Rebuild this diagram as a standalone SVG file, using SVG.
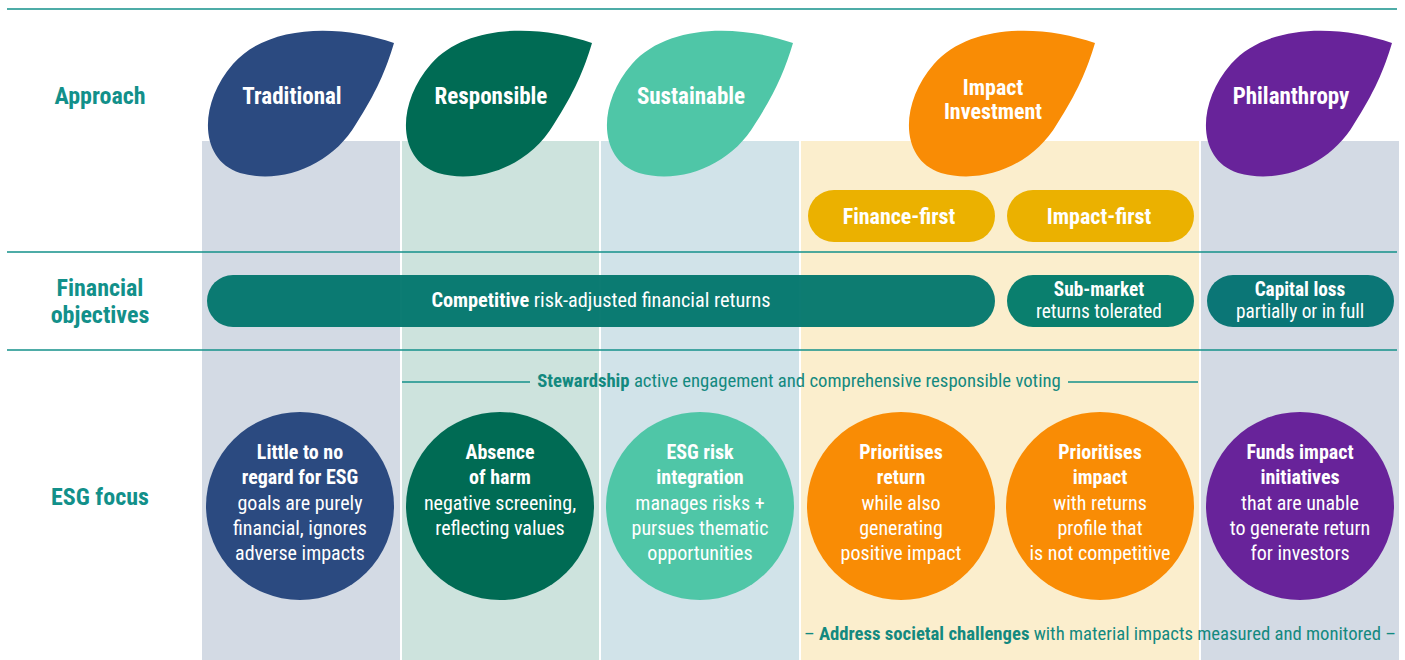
<svg xmlns="http://www.w3.org/2000/svg" xmlns:xlink="http://www.w3.org/1999/xlink" width="1405" height="660" viewBox="0 0 1405 660">
<style>
.f{font-family:"Liberation Sans Narrow","Roboto Condensed","Liberation Sans",Arial,sans-serif}
.lbl{font-weight:bold;font-size:24px;fill:#12908a;text-anchor:middle}
.lt{font-weight:bold;font-size:23px;fill:#fff;text-anchor:middle}
.lt2{font-weight:bold;font-size:22px;fill:#fff;text-anchor:middle}
.pt{font-weight:bold;font-size:22px;fill:#fff;text-anchor:middle}
.ft{font-size:20.3px;fill:#fff;text-anchor:middle}
.ft2{font-size:19.3px;fill:#fff;text-anchor:middle}
.ct{font-size:20px;fill:#fff;text-anchor:middle}
.b{font-weight:bold}
.rule{stroke:#13908a;stroke-width:1.5;fill:none}
.note{font-size:18.7px;fill:#13897f;text-anchor:middle}
</style>
<defs>
<path id="leaf" d="M394,43 C340,24 268,24 233,64 C198,104 199,160 240,173 C282,185 332,165 356,124 C376,93 386,70 394,43 Z"/>
</defs>
<rect width="1405" height="660" fill="#fff"/>
<g id="columns">
<rect x="202" y="141" width="198" height="519" fill="#d3dae4"/>
<rect x="402" y="141" width="197" height="519" fill="#cde3dd"/>
<rect x="601" y="141" width="198" height="519" fill="#d1e3e9"/>
<rect x="801" y="141" width="398" height="519" fill="#fbeecd"/>
<rect x="1201" y="141" width="198" height="519" fill="#d3dae4"/>
</g>
<g id="connectors">
<line class="rule" x1="7" y1="9" x2="1397" y2="9"/>
<line class="rule" x1="7" y1="252" x2="1397" y2="252"/>
<line class="rule" x1="7" y1="350" x2="1397" y2="350"/>
<line class="rule" x1="402" y1="382" x2="530" y2="382"/>
<line class="rule" x1="1068" y1="382" x2="1198" y2="382"/>
</g>
<g id="row-labels" class="f">
<text class="lbl" x="100" y="104">Approach</text>
<text class="lbl" x="100" y="296">Financial</text>
<text class="lbl" x="100" y="323">objectives</text>
<text class="lbl" x="100" y="505">ESG focus</text>
</g>
<g id="leaf-traditional">
<use xlink:href="#leaf" fill="#2b4a80"/>
<text class="f lt" x="292" y="104">Traditional</text>
</g>
<g id="leaf-responsible">
<use xlink:href="#leaf" fill="#006b54" transform="translate(198,0)"/>
<text class="f lt" x="491" y="104">Responsible</text>
</g>
<g id="leaf-sustainable">
<use xlink:href="#leaf" fill="#4fc6a7" transform="translate(399,0)"/>
<text class="f lt" x="691" y="104">Sustainable</text>
</g>
<g id="leaf-impact">
<use xlink:href="#leaf" fill="#f98c05" transform="translate(701,0)"/>
<text class="f lt2" x="993" y="95">Impact</text>
<text class="f lt2" x="993" y="119">Investment</text>
</g>
<g id="leaf-philanthropy">
<use xlink:href="#leaf" fill="#68239a" transform="translate(998,0)"/>
<text class="f lt" x="1291" y="104">Philanthropy</text>
</g>
<g id="finance-first">
<rect x="808" y="190" width="187" height="52" rx="26" fill="#ebb100"/>
<text class="f pt" x="899" y="224">Finance-first</text>
</g>
<g id="impact-first">
<rect x="1007" y="190" width="187" height="52" rx="26" fill="#ebb100"/>
<text class="f pt" x="1099" y="224">Impact-first</text>
</g>
<g id="competitive">
<rect x="207" y="275" width="788" height="52" rx="26" fill="#00756c" fill-opacity="0.95"/>
<text class="f ft" x="601" y="307"><tspan class="b">Competitive</tspan> risk-adjusted financial returns</text>
</g>
<g id="sub-market">
<rect x="1007" y="275" width="187" height="52" rx="26" fill="#0a7f6e"/>
<text class="f ft2" x="1099" y="296"><tspan class="b">Sub-market</tspan></text>
<text class="f ft2" x="1099" y="318">returns tolerated</text>
</g>
<g id="capital-loss">
<rect x="1207" y="275" width="187" height="52" rx="26" fill="#0b7676"/>
<text class="f ft2" x="1300" y="296"><tspan class="b">Capital loss</tspan></text>
<text class="f ft2" x="1300" y="318">partially or in full</text>
</g>
<g id="stewardship">
<text class="f note" x="799" y="387"><tspan class="b">Stewardship</tspan> active engagement and comprehensive responsible voting</text>
</g>
<g id="esg-traditional">
<circle cx="300" cy="506" r="94" fill="#2b4a80"/>
<text class="f ct" x="300"><tspan class="b" x="300" y="459">Little to no</tspan><tspan class="b" x="300" y="484">regard for ESG</tspan><tspan x="300" y="510">goals are purely</tspan><tspan x="300" y="535">financial, ignores</tspan><tspan x="300" y="560">adverse impacts</tspan></text>
</g>
<g id="esg-responsible">
<circle cx="500" cy="506" r="94" fill="#006b54"/>
<text class="f ct" x="500"><tspan class="b" x="500" y="459">Absence</tspan><tspan class="b" x="500" y="484">of harm</tspan><tspan x="500" y="510">negative screening,</tspan><tspan x="500" y="535">reflecting values</tspan></text>
</g>
<g id="esg-sustainable">
<circle cx="700" cy="506" r="94" fill="#4fc6a7"/>
<text class="f ct" x="700"><tspan class="b" x="700" y="459">ESG risk</tspan><tspan class="b" x="700" y="484">integration</tspan><tspan x="700" y="510">manages risks +</tspan><tspan x="700" y="535">pursues thematic</tspan><tspan x="700" y="560">opportunities</tspan></text>
</g>
<g id="esg-finance-first">
<circle cx="901" cy="506" r="94" fill="#f98c05"/>
<text class="f ct" x="901"><tspan class="b" x="901" y="459">Prioritises</tspan><tspan class="b" x="901" y="484">return</tspan><tspan x="901" y="510">while also</tspan><tspan x="901" y="535">generating</tspan><tspan x="901" y="560">positive impact</tspan></text>
</g>
<g id="esg-impact-first">
<circle cx="1100" cy="506" r="94" fill="#f98c05"/>
<text class="f ct" x="1100"><tspan class="b" x="1100" y="459">Prioritises</tspan><tspan class="b" x="1100" y="484">impact</tspan><tspan x="1100" y="510">with returns</tspan><tspan x="1100" y="535">profile that</tspan><tspan x="1100" y="560">is not competitive</tspan></text>
</g>
<g id="esg-philanthropy">
<circle cx="1300" cy="506" r="94" fill="#68239a"/>
<text class="f ct" x="1300"><tspan class="b" x="1300" y="459">Funds impact</tspan><tspan class="b" x="1300" y="484">initiatives</tspan><tspan x="1300" y="510">that are unable</tspan><tspan x="1300" y="535">to generate return</tspan><tspan x="1300" y="560">for investors</tspan></text>
</g>
<g id="societal">
<text class="f note" x="1100" y="640">– <tspan class="b">Address societal challenges</tspan> with material impacts measured and monitored –</text>
</g>
</svg>
